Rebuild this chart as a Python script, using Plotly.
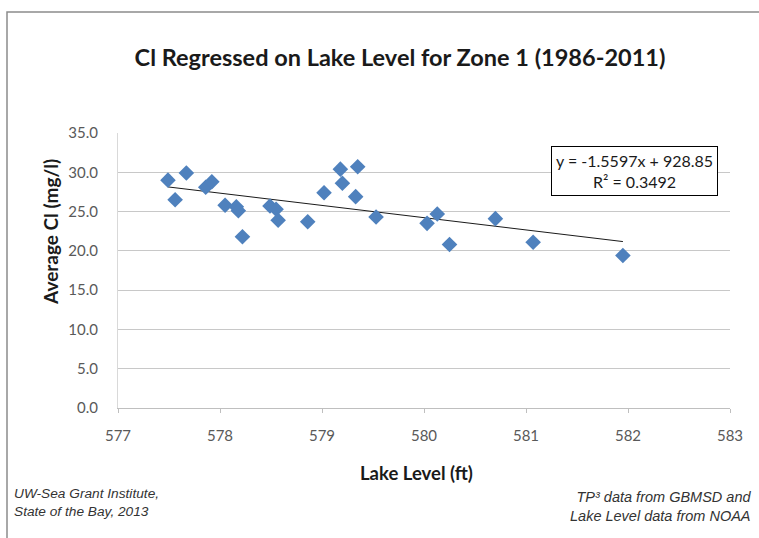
import plotly.graph_objects as go

# Data
lake_level = [577.49, 577.56, 577.67, 577.86, 577.92, 578.05, 578.16, 578.18, 578.22,
              578.49, 578.55, 578.57, 578.86, 579.02, 579.18, 579.20, 579.33, 579.35,
              579.53, 580.03, 580.13, 580.25, 580.70, 581.07, 581.95]
avg_cl = [29.0, 26.5, 29.9, 28.1, 28.8, 25.8, 25.6, 25.1, 21.8,
          25.7, 25.3, 23.9, 23.7, 27.4, 30.4, 28.6, 26.9, 30.7,
          24.3, 23.5, 24.7, 20.8, 24.1, 21.1, 19.4]

slope = -1.5597
intercept = 928.85
r_squared = 0.3492

x_ticks = [577, 578, 579, 580, 581, 582, 583]
y_ticks = [0, 5, 10, 15, 20, 25, 30, 35]

font_main = "Lato, Open Sans, sans-serif"
font_note = "Liberation Sans, Arial, sans-serif"

trend_x = [min(lake_level), max(lake_level)]
trend_y = [slope * v + intercept for v in trend_x]

fig = go.Figure()
fig.add_trace(go.Scatter(
    x=trend_x, y=trend_y, mode="lines",
    line=dict(color="#1a1a1a", width=1), hoverinfo="skip", showlegend=False))
fig.add_trace(go.Scatter(
    x=lake_level, y=avg_cl, mode="markers",
    marker=dict(symbol="diamond", size=12, color="#4F81BD",
                line=dict(width=0)),
    showlegend=False))

L, R, T, B = 118, 29, 133, 130
W, H = 759, 538

fig.update_layout(
    width=W, height=H,
    margin=dict(l=L, r=R, t=T, b=B),
    paper_bgcolor="white", plot_bgcolor="white",
    title=dict(text="<b>Cl Regressed on Lake Level for Zone 1 (1986-2011)</b>",
               x=400 / W, xanchor="center", y=1 - 58 / H, yanchor="middle",
               font=dict(family=font_main, size=23.5, color="#1a1a1a")),
    xaxis=dict(range=[577, 583], tickvals=x_ticks,
               ticktext=[str(v) for v in x_ticks],
               showgrid=False, zeroline=False,
               showline=True, linecolor="#BFBFBF", linewidth=1,
               ticks="outside", ticklen=4, tickcolor="#BFBFBF",
               ticklabelstandoff=10,
               tickfont=dict(family=font_main, size=15, color="#595959")),
    yaxis=dict(range=[0, 35], tickvals=y_ticks,
               ticktext=[f"{v:.1f}" for v in y_ticks],
               showgrid=True, gridcolor="#C8C8C8", gridwidth=1,
               zeroline=False, showline=True, linecolor="#D9D9D9", linewidth=1,
               ticks="", ticklabelstandoff=16,
               tickfont=dict(family=font_main, size=15, color="#595959")),
)

# pixel -> plot-area paper coords
def px(xp):
    return (xp - L) / (W - L - R)

def py(yp):
    return (H - B - yp) / (H - T - B)

# axis titles
fig.add_annotation(
    x=px(416), y=py(473), xref="paper", yref="paper",
    xanchor="center", yanchor="middle", showarrow=False,
    text="<b>Lake Level (ft)</b>",
    font=dict(family=font_main, size=18.5, color="#1a1a1a"))
fig.add_annotation(
    x=px(50), y=py(232), xref="paper", yref="paper",
    xanchor="center", yanchor="middle", showarrow=False, textangle=-90,
    text="<b>Average Cl (mg/l)</b>",
    font=dict(family=font_main, size=19, color="#1a1a1a"))

# equation box
fig.add_annotation(
    x=px(634), y=py(171), xref="paper", yref="paper",
    xanchor="center", yanchor="middle", showarrow=False,
    text=f"y = {slope}x + {intercept}<br>R² = {r_squared}",
    align="center", font=dict(family=font_main, size=16, color="#1a1a1a"),
    bordercolor="#000000", borderwidth=1, borderpad=4, bgcolor="white")

fig.add_annotation(
    x=px(12), y=py(502), xref="paper", yref="paper",
    xanchor="left", yanchor="middle", showarrow=False, align="left",
    text="<i>UW-Sea Grant Institute,<br>State of the Bay, 2013</i>",
    font=dict(family=font_note, size=13.7, color="#333333"))
fig.add_annotation(
    x=px(753), y=py(507), xref="paper", yref="paper",
    xanchor="right", yanchor="middle", showarrow=False, align="right",
    text="<i>TP³ data from GBMSD and<br>Lake Level data from NOAA</i>",
    font=dict(family=font_note, size=14.5, color="#333333"))

# outer chart border
fig.add_shape(type="rect", xref="paper", yref="paper",
              x0=px(7), x1=px(765), y0=py(545), y1=py(12),
              line=dict(color="#8C8C8C", width=1.5), fillcolor="rgba(0,0,0,0)",
              layer="below")

fig.write_html("out.html", config={"displayModeBar": False},
               post_script="document.body.style.margin='0';document.body.style.padding='0';")
